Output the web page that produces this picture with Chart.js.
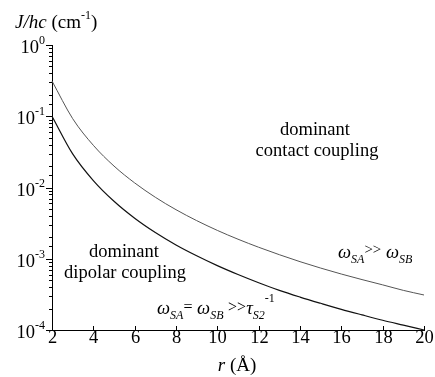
<!DOCTYPE html>
<html>
<head>
<meta charset="utf-8">
<script src="https://cdn.jsdelivr.net/npm/chart.js@4.4.1/dist/chart.umd.min.js"></script>
<style>
  html, body { margin: 0; padding: 0; background: #fff; }
  #wrap { position: relative; width: 435px; height: 377px; }
  #labels { position: absolute; left: 0; top: 0; width: 435px; height: 377px; pointer-events: none; }
  .lbl { position: absolute; white-space: nowrap; color: #000; font-family: "Liberation Serif", serif; }
  .lbl span, .lbl i { position: relative; }
  .sup { font-size: 12px; top: -9px; }
  .sup2 { font-size: 12px; top: -12px; }
  .sub { font-size: 12px; top: 5px; }
  .op { font-size: 16px; top: -2px; }
  .op2 { font-size: 15px; top: -4px; }
</style>
</head>
<body>
<div id="wrap">
  <canvas id="chart"></canvas>
  <div id="labels"></div>
</div>
<script>
// distance r (Angstrom) and J/hc (cm-1)
const rValues = [2, 3, 4, 5, 6, 7, 8, 9, 10, 11, 12, 13, 14, 15, 16, 17, 18, 19, 20];
const contactJ = [0.3125, 0.0926, 0.0391, 0.0200, 0.0116, 0.00729, 0.00488, 0.00343, 0.00250, 0.00188,
    0.00145, 0.00114, 0.00091, 0.00074, 0.00061, 0.00051, 0.00043, 0.00036, 0.00031];
const dipolarJ = [0.100, 0.0296, 0.0125, 0.0064, 0.0037, 0.00233, 0.00156, 0.00110, 0.00080, 0.00060,
    0.00046, 0.00036, 0.00029, 0.000237, 0.000195, 0.000163, 0.000137, 0.000117, 0.000100];
const xRange = [2, 20];
const yRange = [1e-4, 1];

const labelBox = document.getElementById('labels');

// places a text block so that its baseline sits at y (Liberation Serif baseline ~0.8375em with line-height 1)
function addLabel(html, x, y, size, align) {
    const d = document.createElement('div');
    d.className = 'lbl';
    d.innerHTML = html;
    d.style.fontSize = size + 'px';
    d.style.lineHeight = size + 'px';
    d.style.left = x + 'px';
    d.style.top = (y - 0.8375 * size) + 'px';
    if (align === 'center') d.style.transform = 'translateX(-50%)';
    if (align === 'right') d.style.transform = 'translateX(-100%)';
    labelBox.appendChild(d);
}

function buildLabels(chart) {
    const { x, y } = chart.scales;
    labelBox.innerHTML = '';

    y.ticks.forEach((t) => {
        const exp = Math.log10(t.value);
        if (Math.abs(exp - Math.round(exp)) > 1e-6) return;
        const py = Math.round(y.getPixelForValue(t.value));
        addLabel('10<span class="sup">' + Math.round(exp) + '</span>', 45, py + 8, 18.5, 'right');
    });
    x.ticks.forEach((t) => {
        addLabel(String(t.value), Math.round(x.getPixelForValue(t.value)) + 0.5, 343, 18.5, 'center');
    });

    addLabel('<i>J/hc</i> (cm<span class="sup">-1</span>)', 15, 28, 19, 'left');
    addLabel('<i>r</i> (&Aring;)', 237, 371, 19, 'center');

    addLabel('dominant', 315, 135, 18.5, 'center');
    addLabel('contact coupling', 317, 156, 18.5, 'center');
    addLabel('dominant', 124, 257, 18.5, 'center');
    addLabel('dipolar coupling', 125, 278, 18.5, 'center');

    addLabel('<i>&omega;<span class="sub">SA</span></i><span class="op2">&gt;&gt;</span> <i>&omega;<span class="sub">SB</span></i>',
        338, 258, 18.5, 'left');
    addLabel('<i>&omega;<span class="sub">SA</span></i><span class="op">=</span> <i>&omega;<span class="sub">SB</span></i>'
        + ' <span class="op">&gt;&gt;</span><i>&tau;<span class="sub">S2</span></i><span class="sup2">-1</span>',
        157, 314, 18.5, 'left');
}

const axisTicks = {
    id: 'axisTicks',
    afterDraw(chart) {
        const { ctx, scales: { x, y } } = chart;
        ctx.save();
        ctx.fillStyle = '#000';
        const left = Math.round(x.left);
        // y ticks outside to the left: long at decades, short at 2..9
        y.ticks.forEach((t) => {
            const exp = Math.log10(t.value);
            const len = Math.abs(exp - Math.round(exp)) < 1e-6 ? 6 : 3;
            ctx.fillRect(left - len, Math.round(y.getPixelForValue(t.value)), len, 1);
        });
        // x ticks inside, pointing up
        const bottom = Math.round(y.bottom);
        x.ticks.forEach((t) => {
            ctx.fillRect(Math.round(x.getPixelForValue(t.value)), bottom - 4, 1, 4);
        });
        ctx.restore();
        buildLabels(chart);
    },
};

new Chart(document.getElementById('chart'), {
    type: 'line',
    data: {
        datasets: [
            {
                label: 'contact',
                data: rValues.map((r, i) => ({ x: r, y: contactJ[i] })),
                borderColor: '#555',
                borderWidth: 1,
                pointRadius: 0,
                cubicInterpolationMode: 'monotone',
                clip: false,
            },
            {
                label: 'dipolar',
                data: rValues.map((r, i) => ({ x: r, y: dipolarJ[i] })),
                borderColor: '#111',
                borderWidth: 1.2,
                pointRadius: 0,
                cubicInterpolationMode: 'monotone',
                clip: false,
            },
        ],
    },
    options: {
        responsive: true,
        maintainAspectRatio: false,
        animation: false,
        events: [],
        layout: {
            padding: { left: 52, right: 11, top: 45, bottom: 47 },
        },
        plugins: {
            legend: { display: false },
            tooltip: { enabled: false },
        },
        scales: {
            x: {
                type: 'linear',
                min: xRange[0],
                max: xRange[1],
                ticks: { display: false, stepSize: 2 },
                grid: { display: false, drawTicks: false },
                border: { display: true, color: '#000', width: 1 },
            },
            y: {
                type: 'logarithmic',
                min: yRange[0],
                max: yRange[1],
                ticks: { display: false },
                grid: { display: false, drawTicks: false },
                border: { display: true, color: '#000', width: 1 },
            },
        },
    },
    plugins: [axisTicks],
});
</script>
</body>
</html>
